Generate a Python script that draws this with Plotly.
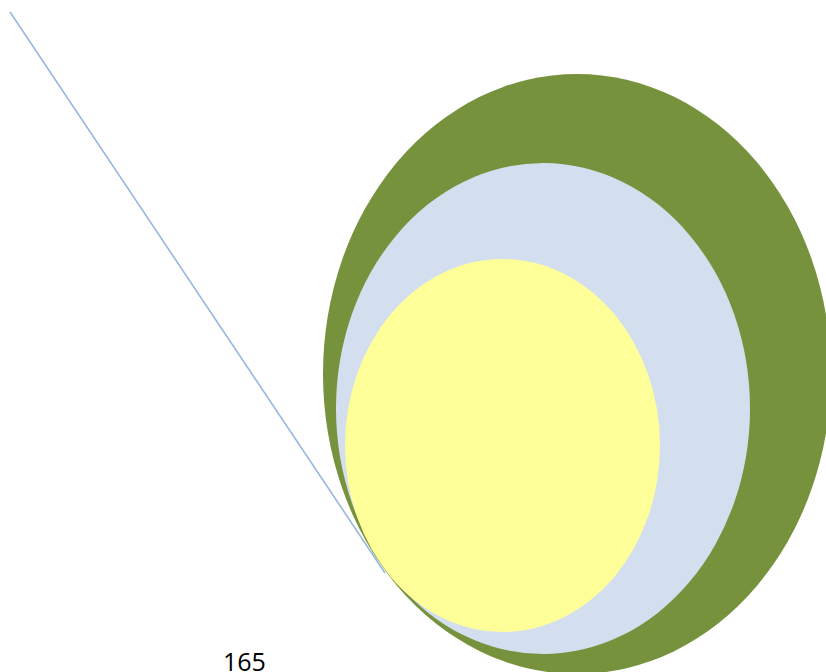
import plotly.graph_objects as go

# Ellipses (outer to inner): bounding boxes in page pixel coordinates
ellipse_names = ["outer", "middle", "inner"]
ellipse_x0 = [323, 336, 345]
ellipse_x1 = [831, 750, 660]
ellipse_y0 = [74, 163, 259]
ellipse_y1 = [674, 654, 632]
ellipse_colors = ["#76923C", "#D3DFEE", "#FFFF99"]

# Connector line
line_x = [10, 385]
line_y = [12, 573]

# Label
label_text = "165"
label_x = 244
label_y = 661

fig = go.Figure()

fig.add_trace(go.Scatter(
    x=line_x, y=line_y, mode="lines",
    line=dict(color="#9BB7DC", width=1.6),
    hoverinfo="skip", showlegend=False,
))

shapes = []
for x0, x1, y0, y1, c in zip(ellipse_x0, ellipse_x1, ellipse_y0, ellipse_y1, ellipse_colors):
    shapes.append(dict(
        type="circle", xref="x", yref="y",
        x0=x0, x1=x1, y0=y0, y1=y1,
        fillcolor=c, line=dict(width=0), layer="above",
    ))

fig.update_layout(
    width=826, height=672,
    margin=dict(l=0, r=0, t=0, b=0),
    paper_bgcolor="white", plot_bgcolor="white",
    shapes=shapes,
    xaxis=dict(range=[0, 826], visible=False, fixedrange=True),
    yaxis=dict(range=[672, 0], visible=False, fixedrange=True),
    annotations=[dict(
        x=label_x, y=label_y, xref="x", yref="y",
        text=label_text, showarrow=False,
        font=dict(family="Open Sans", size=25, color="#000000"),
        xanchor="center", yanchor="middle",
    )],
)

page_fix = (
    "document.documentElement.style.margin='0';"
    "document.documentElement.style.overflow='hidden';"
    "document.body.style.margin='0';"
    "document.body.style.overflow='hidden';"
)

fig.write_html("out.html", post_script=page_fix, config={"displayModeBar": False})
